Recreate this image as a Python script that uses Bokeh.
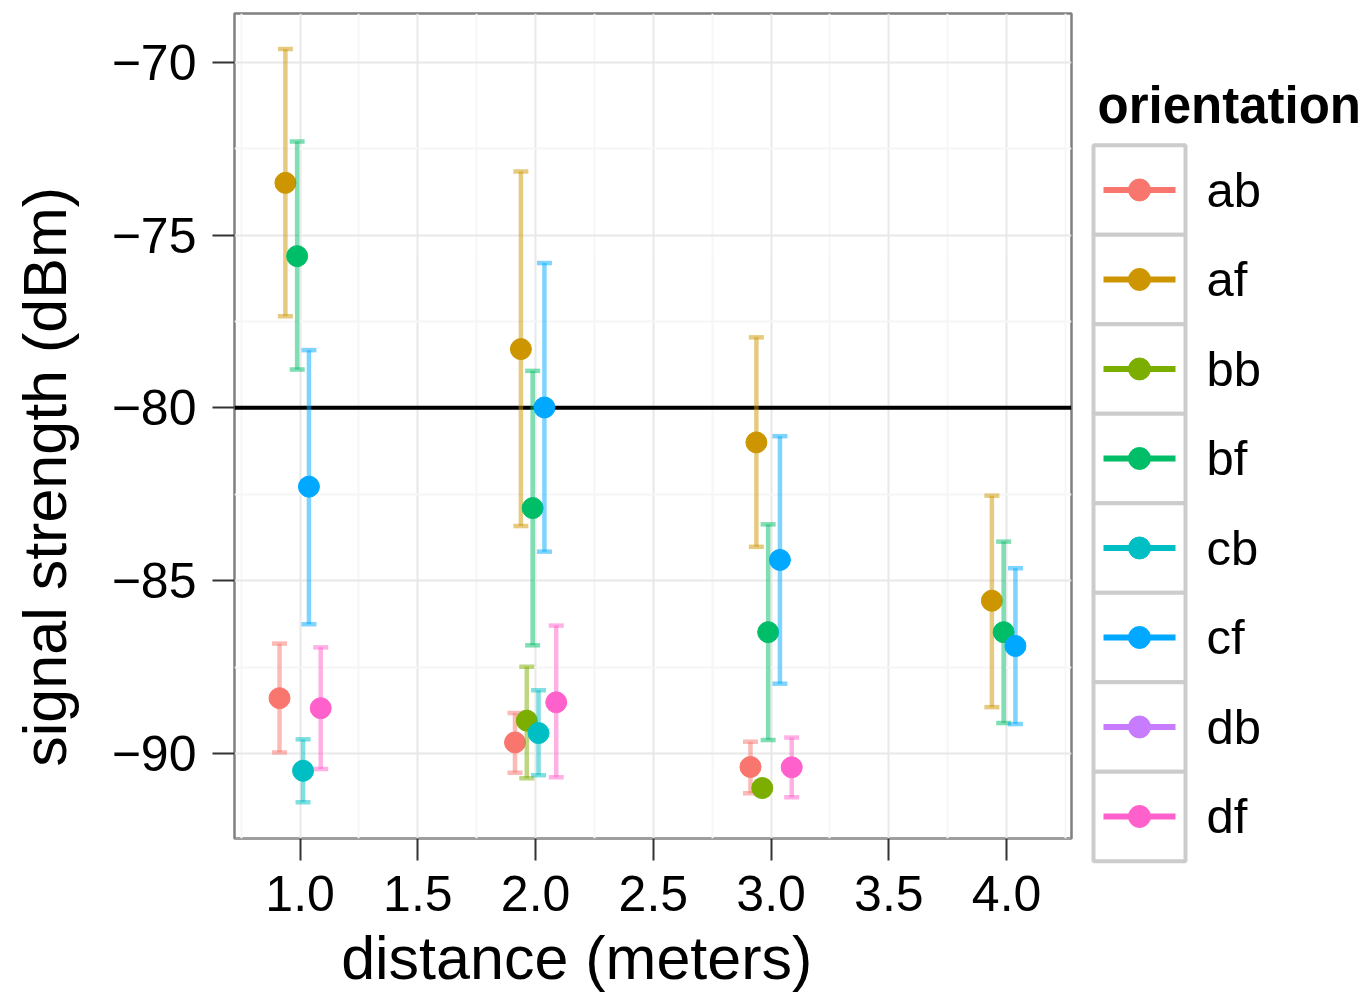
from bokeh.plotting import figure
from bokeh.layouts import row, column
from bokeh.models import (Range1d, FixedTicker, CustomJSTickFormatter,
                          Span, ColumnDataSource, Label, Spacer)
from bokeh.transform import dodge
from bokeh.core.properties import value
from bokeh.embed import file_html
from bokeh.resources import INLINE

# ---------------- data ----------------
orientations = ["ab", "af", "bb", "bf", "cb", "cf", "db", "df"]
colors = ["#F8766D", "#CD9600", "#7CAE00", "#00BE67", "#00BFC4", "#00A9FF", "#C77CFF", "#FF61CC"]

obs_orientation = ["ab", "af", "bf", "cb", "cf", "df",
                   "ab", "af", "bb", "bf", "cb", "cf", "df",
                   "ab", "af", "bb", "bf", "cf", "df",
                   "af", "bf", "cf"]
obs_distance = [1, 1, 1, 1, 1, 1,
                2, 2, 2, 2, 2, 2, 2,
                3, 3, 3, 3, 3, 3,
                4, 4, 4]
obs_mean = [-88.40, -73.49, -75.61, -90.50, -82.28, -88.69,
            -89.68, -78.30, -89.05, -82.90, -89.41, -79.99, -88.52,
            -90.39, -81.00, -91.00, -86.49, -84.40, -90.40,
            -85.58, -86.49, -86.89]
obs_lower = [-89.97, -77.35, -78.89, -91.41, -86.26, -90.45,
             -90.56, -83.42, -90.72, -86.87, -90.63, -84.16, -90.69,
             -91.15, -84.02, -91.18, -89.61, -87.98, -91.27,
             -88.66, -89.12, -89.15]
obs_upper = [-86.82, -69.62, -72.29, -89.59, -78.33, -86.93,
             -88.83, -73.16, -87.49, -78.93, -88.17, -75.81, -86.30,
             -89.66, -77.96, -90.82, -83.37, -80.82, -89.54,
             -82.54, -83.87, -84.64]

x_ticks = [1.0, 1.5, 2.0, 2.5, 3.0, 3.5, 4.0]
y_ticks = [-90, -85, -80, -75, -70]
threshold = -80

x_title = "distance (meters)"
y_title = "signal strength (dBm)"
legend_title = "orientation"

# ---------------- style ----------------
FONT = "Liberation Sans"
DODGE_WIDTH = 0.2
NBSP = "\u00a0"

p = figure(width=1085, height=994, output_backend="svg", toolbar_location=None,
           x_range=Range1d(0.7214, 4.2756), y_range=Range1d(-92.46, -68.59),
           min_border_left=234, min_border_right=14, min_border_top=13,
           min_border_bottom=156)
p.background_fill_color = "white"
p.border_fill_color = "white"
p.outline_line_color = "#808080"
p.outline_line_width = 2.5

x_minor = [t - 0.25 for t in x_ticks] + [x_ticks[-1] + 0.25]
y_minor = [t - 2.5 for t in y_ticks] + [y_ticks[-1] + 2.5]
p.xaxis.ticker = FixedTicker(ticks=x_ticks, minor_ticks=x_minor)
p.yaxis.ticker = FixedTicker(ticks=y_ticks, minor_ticks=y_minor)
p.xaxis.formatter = CustomJSTickFormatter(code="return tick.toFixed(1);")
p.yaxis.formatter = CustomJSTickFormatter(
    code="return (tick < 0 ? '\u2212' : '') + Math.abs(tick).toFixed(0);")

for g in (p.xgrid[0], p.ygrid[0]):
    g.grid_line_color = "#E8E8E8"
    g.grid_line_width = 2
    g.minor_grid_line_color = "#F6F6F6"
    g.minor_grid_line_width = 2

for ax in (p.xaxis[0], p.yaxis[0]):
    ax.axis_line_color = None
    ax.major_tick_line_color = "#333333"
    ax.major_tick_line_width = 2
    ax.major_tick_out = 22
    ax.major_tick_in = 0
    ax.minor_tick_line_color = None
    ax.major_label_text_font = FONT
    ax.major_label_text_font_size = "50px"
    ax.major_label_text_color = "black"
    ax.axis_label_text_font = FONT
    ax.axis_label_text_font_size = "61px"
    ax.axis_label_text_font_style = "normal"
    ax.axis_label_text_color = "black"

p.xaxis.axis_label = x_title + NBSP * 9
p.yaxis.axis_label = y_title + NBSP * 6
p.xaxis.major_label_standoff = 15
p.yaxis.major_label_standoff = 16
p.xaxis.axis_label_standoff = 10
p.yaxis.axis_label_standoff = 30

span = Span(location=threshold, dimension="width", line_color="black", line_width=4,
            level="underlay")
p.add_layout(span)

n = len(orientations)
for i, (o, c) in enumerate(zip(orientations, colors)):
    idx = [k for k, v in enumerate(obs_orientation) if v == o]
    if not idx:
        continue
    src = ColumnDataSource(dict(
        distance=[obs_distance[k] for k in idx],
        mean=[obs_mean[k] for k in idx],
        lower=[obs_lower[k] for k in idx],
        upper=[obs_upper[k] for k in idx],
    ))
    off = (i - (n - 1) / 2) * DODGE_WIDTH / n
    xs = dodge("distance", off)
    p.segment(x0=xs, x1=xs, y0="lower", y1="upper", source=src,
              line_color=c, line_alpha=0.5, line_width=4.5)
    for end in ("upper", "lower"):
        p.rect(x=xs, y=end, width=15, height=4.5, width_units="screen",
               height_units="screen", source=src, fill_color=c, fill_alpha=0.5,
               line_color=None)
    p.scatter(x=xs, y="mean", source=src, size=21, color=c)

# ---------------- legend panel ----------------
KEY_X = 54
LABEL_X = 121
leg = figure(width=284, height=994, output_backend="svg", toolbar_location=None,
             x_range=Range1d(0, 284), y_range=Range1d(8.989, -2.117),
             x_axis_type=None, y_axis_type=None,
             min_border=0, min_border_left=0, min_border_right=0,
             min_border_top=0, min_border_bottom=0)
leg.outline_line_color = None
leg.grid.visible = False
leg.background_fill_color = "white"
leg.border_fill_color = "white"

lsrc = ColumnDataSource(dict(row=list(range(n)), orientation=orientations, color=colors))
leg.rect(x=KEY_X, y="row", width=92, height=1, width_units="screen", source=lsrc,
         fill_color="white", line_color="#CCCCCC", line_width=4)
leg.rect(x=KEY_X, y="row", width=72, height=6, width_units="screen", height_units="screen",
         source=lsrc, fill_color="color", line_color=None)
leg.scatter(x=KEY_X, y="row", size=22, color="color", source=lsrc)
leg.text(x=LABEL_X, y="row", text="orientation", source=lsrc,
         text_font=value(FONT), text_font_size="49px", text_baseline="middle",
         text_color="black")
leg.add_layout(Label(x=12, y=-0.94, text=legend_title, text_font=FONT,
                     text_font_size="51px", text_font_style="bold",
                     text_baseline="alphabetic", text_color="black"))

layout = row(p, column(leg))
open("out.html", "w").write(file_html(layout, INLINE))
